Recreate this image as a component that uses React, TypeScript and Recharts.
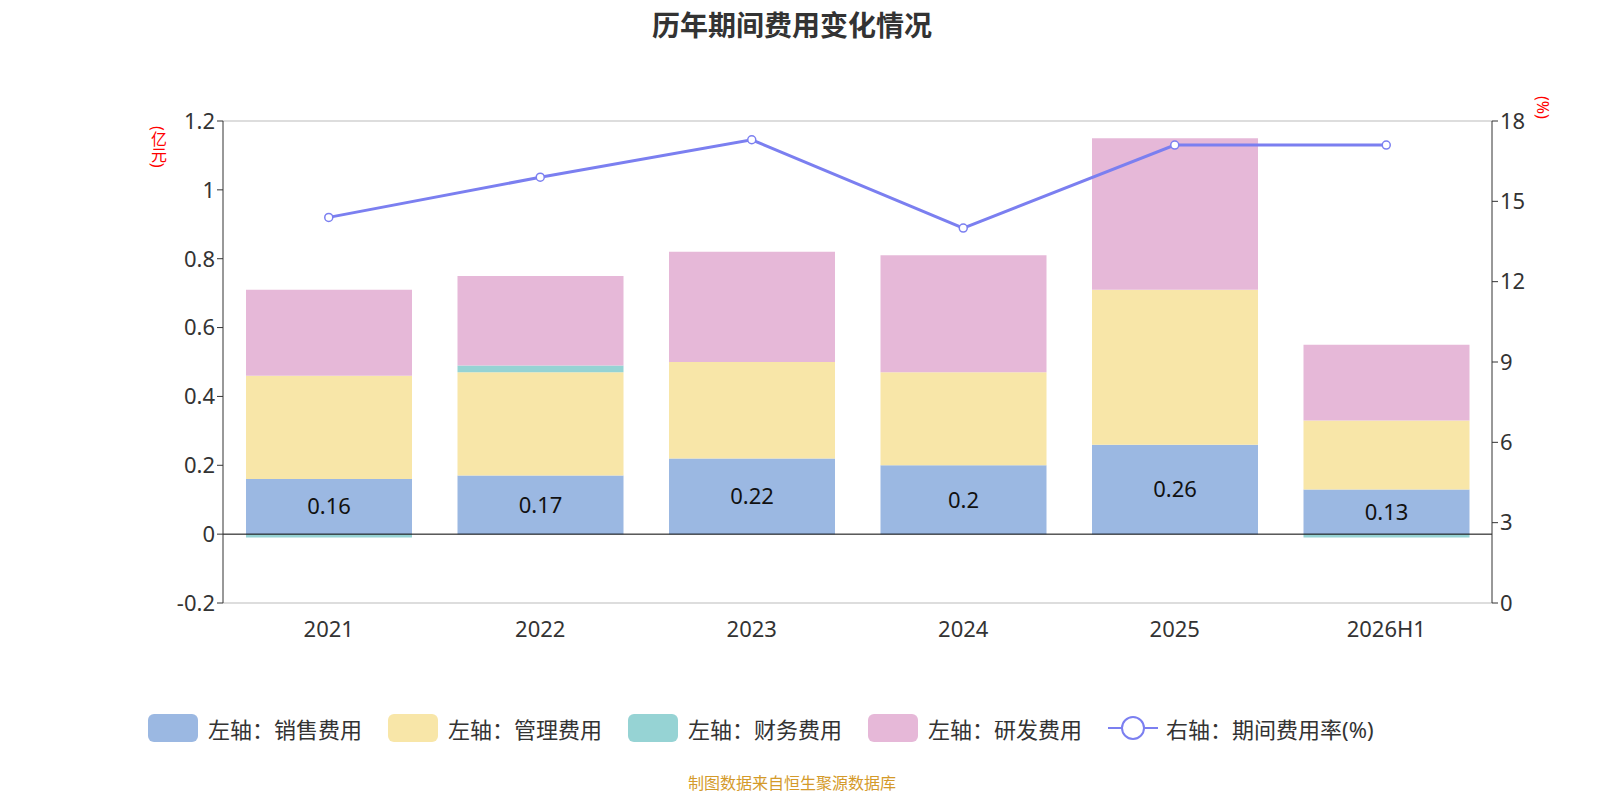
import { ComposedChart, Bar, Line, XAxis, YAxis, CartesianGrid, ReferenceLine, LabelList } from "recharts"

const years = ["2021", "2022", "2023", "2024", "2025", "2026H1"]
const sales = [0.16, 0.17, 0.22, 0.2, 0.26, 0.13]
const admin = [0.3, 0.3, 0.28, 0.27, 0.45, 0.2]
const finance = [-0.01, 0.02, 0, 0, 0, -0.01]
const rnd = [0.25, 0.26, 0.32, 0.34, 0.44, 0.22]
const rate = [14.4, 15.9, 17.3, 14.0, 17.1, 17.1]

const data = years.map((y, i) => ({
  year: y,
  sales: sales[i],
  admin: admin[i],
  finance: finance[i],
  rnd: rnd[i],
  rate: rate[i],
}))

const font = "'Noto Sans', 'Noto Sans CJK SC', sans-serif"

const legendItems = [
  { label: "左轴：销售费用", color: "#9bb8e2" },
  { label: "左轴：管理费用", color: "#f8e6a8" },
  { label: "左轴：财务费用", color: "#96d3d4" },
  { label: "左轴：研发费用", color: "#e6b8d8" },
]

export default function App() {
  return (
    <div style={{ position: "relative", width: 1584, height: 790, fontFamily: font }}>
      <div style={{ position: "absolute", top: -4, left: -8, width: "100%", textAlign: "center", fontSize: 28, fontWeight: "bold", color: "#333" }}>
        历年期间费用变化情况
      </div>
      <div style={{ position: "absolute", left: 138, top: 118, color: "red", fontSize: 16, writingMode: "vertical-rl" }}>(亿元)</div>
      <div style={{ position: "absolute", left: 1524, top: 88, color: "red", fontSize: 16, writingMode: "vertical-rl" }}>(%)</div>
      <ComposedChart
        width={1584}
        height={790}
        data={data}
        stackOffset="sign"
        margin={{ top: 113, right: 40, left: 155, bottom: 155 }}
        style={{ fontFamily: font }}
      >
        <CartesianGrid vertical={false} stroke="#bbb" />
        <XAxis dataKey="year" axisLine={false} tickLine={false} height={40} tick={{ fontSize: 22, fill: "#333" }} tickMargin={12} />
        <YAxis
          yAxisId="l"
          domain={[-0.2, 1.2]}
          ticks={[-0.2, 0, 0.2, 0.4, 0.6, 0.8, 1, 1.2]}
          width={60}
          stroke="#333"
          tick={{ fontSize: 22, fill: "#333" }}
        />
        <YAxis
          yAxisId="r"
          orientation="right"
          domain={[0, 18]}
          ticks={[0, 3, 6, 9, 12, 15, 18]}
          width={60}
          stroke="#333"
          tick={{ fontSize: 22, fill: "#333" }}
        />
        <ReferenceLine yAxisId="l" y={0} stroke="#000" />
        <Bar yAxisId="l" dataKey="sales" stackId="a" fill="#9bb8e2" barSize={166} isAnimationActive={false}>
          <LabelList dataKey="sales" position="center" style={{ fontSize: 22, fill: "#111" }} />
        </Bar>
        <Bar yAxisId="l" dataKey="admin" stackId="a" fill="#f8e6a8" barSize={166} isAnimationActive={false} />
        <Bar yAxisId="l" dataKey="finance" stackId="a" fill="#96d3d4" barSize={166} isAnimationActive={false} />
        <Bar yAxisId="l" dataKey="rnd" stackId="a" fill="#e6b8d8" barSize={166} isAnimationActive={false} />
        <Line
          yAxisId="r"
          dataKey="rate"
          stroke="#7b7ff0"
          strokeWidth={3}
          dot={{ r: 4, fill: "#fff", stroke: "#7b7ff0", strokeWidth: 1.5 }}
          isAnimationActive={false}
        />
      </ComposedChart>
      <div style={{ position: "absolute", top: 704, left: 140, display: "flex", gap: 26, fontSize: 22, color: "#333" }}>
        {legendItems.map((it) => (
          <div key={it.label} style={{ display: "flex", alignItems: "center", gap: 10 }}>
            <span style={{ width: 50, height: 28, borderRadius: 6, background: it.color, display: "inline-block" }} />
            {it.label}
          </div>
        ))}
        <div style={{ display: "flex", alignItems: "center", gap: 8 }}>
          <svg width={50} height={28}>
            <line x1={0} y1={14} x2={50} y2={14} stroke="#7b7ff0" strokeWidth={2} />
            <circle cx={25} cy={14} r={11} fill="#fff" stroke="#7b7ff0" strokeWidth={2} />
          </svg>
          右轴：期间费用率(%)
        </div>
      </div>
      <div style={{ position: "absolute", top: 762, left: -8, width: "100%", textAlign: "center", fontSize: 16, color: "#d49a2a" }}>
        制图数据来自恒生聚源数据库
      </div>
    </div>
  )
}
